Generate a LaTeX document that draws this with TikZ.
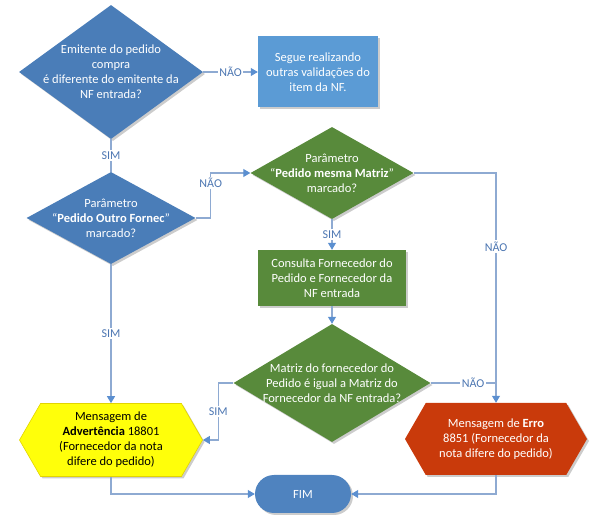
\documentclass[tikz,border=0pt]{standalone}
\usepackage{fontspec}
\setmainfont{Carlito}
\usepackage{tikz}
\usetikzlibrary{arrows.meta,shapes.geometric,shapes.symbols,shadows}
\definecolor{deepblue}{HTML}{4A7DB8}
\definecolor{skyblue}{HTML}{5B9BD5}
\definecolor{leaf}{HTML}{588A3B}
\definecolor{warnyellow}{HTML}{FFFF0A}
\definecolor{warnedge}{HTML}{E2D400}
\definecolor{errred}{HTML}{C93A0B}
\definecolor{fimblue}{HTML}{4F83BF}
\definecolor{linkline}{HTML}{8EAAD2}
\definecolor{tip}{HTML}{5B8FD0}
\definecolor{answertext}{HTML}{4C76B2}
\tikzset{
  font=\fontsize{12.5}{15}\selectfont,
  softshadow/.style={drop shadow={shadow xshift=2pt, shadow yshift=-2pt, opacity=.2, fill=black}},
  decision/.style={diamond, draw=none, inner sep=0pt, softshadow},
  bluedec/.style={decision, fill=deepblue},
  greendec/.style={decision, fill=leaf},
  dectext/.style={text=white, align=center, inner sep=0pt},
  process/.style={rectangle, draw=none, inner sep=0pt, text=white, align=center, softshadow},
  message/.style={
    signal, signal to=east and west, signal pointer angle=120,
    inner xsep=2pt, inner ysep=0pt, align=center, softshadow
  },
  terminal/.style={rectangle, rounded corners=19pt, fill=fimblue, text=white, softshadow},
  linkline/.style={draw=linkline, line width=1.1pt},
  flow/.style={linkline, -{Triangle[length=7pt,width=8pt,color=tip]}},
  answer/.style={font=\fontsize{12}{14}\selectfont, text=answertext, fill=white, inner sep=1.5pt}
}

\begin{document}
\begin{tikzpicture}[x=1pt,y=-1pt]
  \useasboundingbox (0,0) rectangle (603,518);

  % first question
  \node[bluedec, minimum width=184pt, minimum height=134pt] (emit) at (111,72) {};
  \node[dectext] (emit-txt) at (emit.center) {Emitente do pedido\\compra\\é diferente do emitente da\\NF entrada?};
  \node[process, fill=skyblue, minimum width=120pt, minimum height=71pt] (seg) at (318,72) {Segue realizando\\outras validações do\\item da NF.};

  % parameters
  \node[bluedec, minimum width=169pt, minimum height=92pt] (pof) at (111,218) {};
  \node[dectext] (pof-txt) at (pof.center) {Parâmetro\\“\textbf{Pedido Outro Fornec}”\\marcado?};
  \node[greendec, minimum width=163pt, minimum height=92pt] (pmm) at (332,173) {};
  \node[dectext] (pmm-txt) at (pmm.center) {Parâmetro\\“\textbf{Pedido mesma Matriz}”\\marcado?};

  \node[process, fill=leaf, minimum width=148pt, minimum height=56pt] (cons) at (332,278) {Consulta Fornecedor do\\Pedido e Fornecedor da\\NF entrada};
  \node[greendec, minimum width=197pt, minimum height=118pt] (mat) at (332,383) {};
  \node[dectext] (mat-txt) at (mat.center) {Matriz do fornecedor do\\Pedido é igual a Matriz do\\Fornecedor da NF entrada?};

  % messages and end
  \node[message, fill=warnyellow, draw=warnedge, line width=.6pt, minimum width=183pt, minimum height=73pt] (adv) at (111,440) {Mensagem de\\\textbf{Advertência} 18801\\(Fornecedor da nota\\difere do pedido)};
  \node[message, fill=errred, text=white, minimum width=182pt, minimum height=72pt] (err) at (496,439) {Mensagem de \textbf{Erro}\\8851 (Fornecedor da\\nota difere do pedido)};
  \node[terminal, minimum width=96pt, minimum height=38pt] (fim) at (303,494) {FIM};

  \draw[flow] (emit.east) -- node[answer] {NÃO} (seg.west);
  \draw[linkline] (emit.south) -- node[answer] {SIM} (pof.north);
  \draw[flow] (pof.east) -- ++(15,0) |- node[answer, pos=.39] {NÃO} (pmm.west);
  \draw[flow] (pof.south) -- node[answer] {SIM} (adv.north);
  \draw[flow] (pmm.south) -- node[answer] {SIM} (cons.north);
  \draw[flow] (pmm.east) -| node[answer, pos=.66] {NÃO} (err.north);
  \draw[flow] (cons.south) -- (mat.north);
  \draw[flow] (mat.west) -- ++(-15,0) |- node[answer, pos=.25] {SIM} (adv.east);
  \draw[linkline] (mat.east) -- node[answer, pos=.65] {NÃO} (mat.east -| err.north);
  \draw[flow] (adv.south) |- (fim.west);
  \draw[flow] (err.south) |- (fim.east);
\end{tikzpicture}
\end{document}
